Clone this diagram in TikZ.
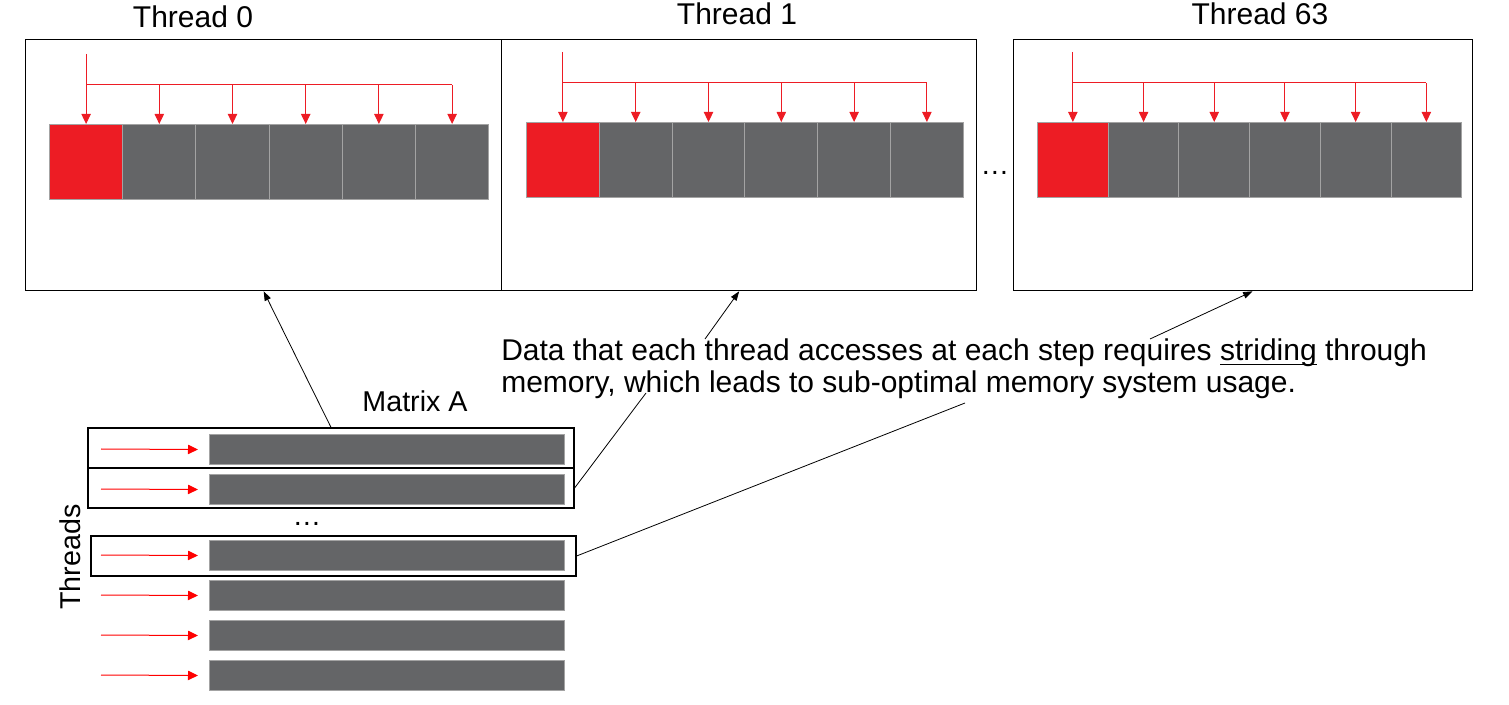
\documentclass[tikz,border=0pt]{standalone}
\usepackage{fontspec}
\setmainfont{Liberation Sans}
\usepackage{tikz}
\usetikzlibrary{arrows.meta, positioning, calc}
\definecolor{cell-red}{HTML}{ED1C24}
\definecolor{cell-gray}{HTML}{646567}
\definecolor{cell-edge}{HTML}{A3A3A3}
\definecolor{ptr-red}{HTML}{FF0000}
\newcommand\lowline[1]{\setbox0\hbox{#1}\rlap{\rule[-3pt]{\wd0}{0.9pt}}\box0\relax}

\begin{document}
\begin{tikzpicture}[x=0.75pt, y=-0.75pt,
    every node/.style={font=\fontsize{21.5}{24}\selectfont},
    big/.style={font=\fontsize{22.5}{24}\selectfont},
    panel/.style={draw, line width=1pt, inner sep=0pt, minimum height=188.25pt, anchor=north west},
    cell/.style={draw=cell-edge, line width=0.75pt, inner sep=0pt, minimum height=56.25pt, anchor=north west},
    feed/.style={cell-red, line width=0.75pt},
    tip/.style={-{Triangle[length=7.5pt, width=7pt]}},
    row/.style={fill=cell-gray, draw=cell-edge, line width=0.75pt, inner sep=0pt, minimum width=266.25pt, minimum height=22.5pt, anchor=north west},
    rowbox/.style={draw, line width=0.9pt, inner sep=0pt, minimum height=30pt},
    thr/.style={ptr-red, line width=0.75pt, -{Triangle[length=7.5pt, width=7pt]}},
    callout/.style={line width=0.6pt, -{Triangle[length=7pt, width=5pt]}},
    lead/.style={line width=0.6pt}]

    \useasboundingbox (0,0) rectangle (1509,705);

    % Thread panels
    \node[panel, minimum width=357pt] (p0) at (25,39) {};
    \node[panel, minimum width=356.25pt] (p1) at (501,39) {};
    \node[panel, minimum width=344.25pt] (p2) at (1013,39) {};

    \node[big, anchor=base] (t0) at (193,28) {Thread 0};
    \node[big, anchor=base] (t1) at (737,25) {Thread 1};
    \node[big, anchor=base] (t63) at (1260,25) {Thread 63};
    \node[anchor=base] (gap) at (995,175) {…};

    % Cells and strided accesses
    \foreach \pid/\cx/\cy/\cw in {0/49/124/73.2, 1/526/122/72.8, 2/1037/122/70.7} {
        \pgfmathsetmacro\cwpt{\cw*0.75}
        \foreach \i/\col in {0/cell-red, 1/cell-gray, 2/cell-gray, 3/cell-gray, 4/cell-gray, 5/cell-gray} {
            \node[cell, fill=\col, minimum width=\cwpt pt] (c\pid-\i) at ({\cx+\cw*\i}, \cy) {};
            \coordinate (b\pid-\i) at ($(c\pid-\i.north)+(0,-39)$);
        }
        \coordinate (s\pid) at ($(c\pid-0.north)+(0,-70)$);
        \draw[feed, tip] (s\pid) -- (c\pid-0.north);
        \draw[feed] (b\pid-0) -- (b\pid-5);
        \foreach \i in {1,...,5}
            \draw[feed, tip] (b\pid-\i) -- (c\pid-\i.north);
    }

    % Matrix A rows
    \node[anchor=base] (mat) at (415,412) {Matrix A};
    \node[rotate=90] (thr) at (70,557) {Threads};
    \foreach \r/\y in {1/434, 2/474, 3/540, 4/580, 5/620, 6/660} {
        \node[row] (r\r) at (209,\y) {};
        \coordinate (a\r) at (101,\y+15);
        \draw[thr] (a\r) -- ([xshift=-8.25pt]r\r.west);
    }
    \node[anchor=base] (vdots) at (307,525) {…};

    \node[rowbox, minimum width=364.5pt] (box1) at (331,448) {};
    \node[rowbox, minimum width=364.5pt] (box2) at (331,488) {};
    \node[rowbox, minimum width=363.75pt] (box3) at (333.5,556) {};

    % Explanation
    \node[big, anchor=base west, align=left, inner sep=0pt] (note) at (501,393)
        {Data that each thread accesses at each step requires \lowline{striding} through\\
         memory, which leads to sub-optimal memory system usage.};

    \coordinate (n1) at (705,339);
    \coordinate (n2) at (1150,339);
    \coordinate (n3) at (646,393);
    \coordinate (n4) at (965,403);

    \draw[callout] (box1.north) -- (p0.south);
    \draw[callout] (n1) -- (p1.south);
    \draw[callout] (n2) -- ([xshift=7pt]p2.south);
    \draw[lead] (box2.east) -- (n3);
    \draw[lead] (box3.east) -- (n4);
\end{tikzpicture}
\end{document}
